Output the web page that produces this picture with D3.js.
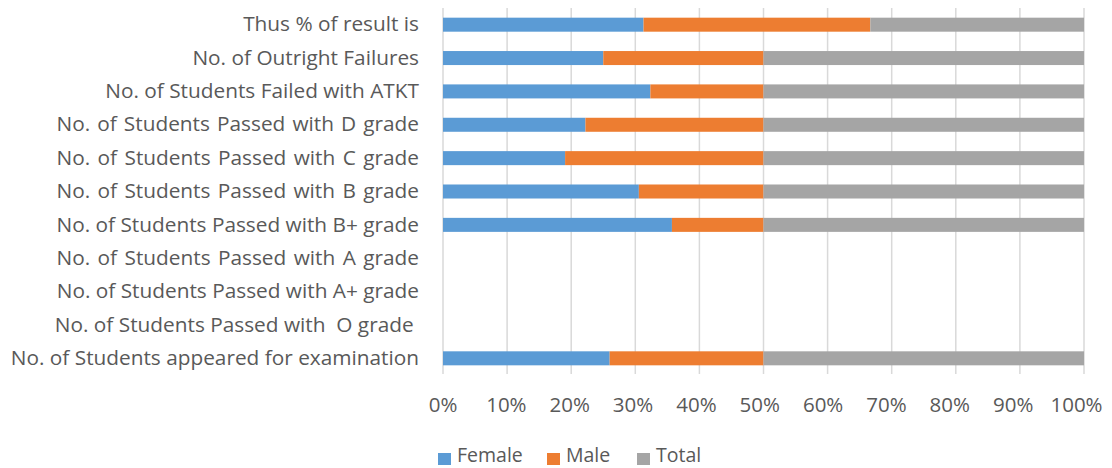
<!DOCTYPE html>
<html>
<head>
<meta charset="utf-8">
<script src="https://cdn.jsdelivr.net/npm/d3@7"></script>
<style>
  html, body { margin: 0; padding: 0; background: #fff; }
  svg { display: block; }
  text { font-family: "Open Sans", sans-serif; fill: #595959; }
</style>
</head>
<body>
<svg id="chart" width="1112" height="468"></svg>
<script>
// Categories (top to bottom as displayed)
const categories = [
  "Thus % of result is",
  "No. of Outright Failures",
  "No. of Students Failed with ATKT",
  "No. of Students Passed with D grade",
  "No. of Students Passed with C grade",
  "No. of Students Passed with B grade",
  "No. of Students Passed with B+ grade",
  "No. of Students Passed with A grade",
  "No. of Students Passed with A+ grade",
  "No. of Students Passed with  O grade ",
  "No. of Students appeared for examination"
];
const seriesNames = ["Female", "Male", "Total"];
const female = [82.5, 1, 11, 4, 8, 11, 5, 0, 0, 0, 13];
const male   = [93.3, 1, 6, 5, 13, 7, 2, 0, 0, 0, 12];
const total  = [87.9, 2, 17, 9, 21, 18, 7, 0, 0, 0, 25];
const xTicks = [0, 0.1, 0.2, 0.3, 0.4, 0.5, 0.6, 0.7, 0.8, 0.9, 1];
const colors = ["#5B9BD5", "#ED7D31", "#A5A5A5"];
const justified = [
  "No. of Students Passed with D grade",
  "No. of Students Passed with C grade",
  "No. of Students Passed with B grade",
  "No. of Students Passed with A grade"
];

const rows = categories.map((c, i) => ({ cat: c, Female: female[i], Male: male[i], Total: total[i] }));

const svg = d3.select("#chart");
const margin = { left: 443, right: 28, top: 8, bottom: 93 };
const W = 1112, H = 468;

const x = d3.scaleLinear().domain([0, 1]).range([margin.left, W - margin.right]);
// tick labels are laid out slightly tighter than the gridlines (as in the original)
const xLabel = d3.scaleLinear().domain([0, 1]).range([margin.left - 0.5, W - margin.right - 8]);
const y = d3.scaleBand().domain(categories).range([margin.top, H - margin.bottom])
  .paddingInner(0.58).paddingOuter(0.29);
const color = d3.scaleOrdinal().domain(seriesNames).range(colors);

// gridlines
svg.append("g").selectAll("line").data(xTicks).join("line")
  .attr("x1", d => x(d)).attr("x2", d => x(d))
  .attr("y1", margin.top).attr("y2", H - margin.bottom - 1)
  .attr("stroke", "#d9d9d9").attr("stroke-width", 1.5);

// stacks (normalized)
const stack = d3.stack().keys(seriesNames).offset(d3.stackOffsetExpand);
const stacked = stack(rows);

svg.append("g").selectAll("g").data(stacked).join("g")
  .attr("fill", d => color(d.key))
  .selectAll("rect").data(d => d.filter(p => !isNaN(p[1]) && p[1] > p[0])).join("rect")
  .attr("x", d => x(d[0]))
  .attr("width", d => x(d[1]) - x(d[0]))
  .attr("y", d => y(d.data.cat))
  .attr("height", y.bandwidth());

// x axis labels
const xAxis = d3.axisBottom(xLabel).tickValues(xTicks).tickFormat(d3.format(".0%")).tickSize(0).tickPadding(0);
const gx = svg.append("g").attr("transform", `translate(0,412)`).call(xAxis);
gx.select(".domain").remove();
gx.selectAll("text").attr("y", 0).attr("dy", 0)
  .style("font-size", "20.5px").style("font-family", "'Open Sans', sans-serif").attr("fill", "#595959");

// y axis labels
const yAxis = d3.axisLeft(y).tickSize(0).tickPadding(0);
const gy = svg.append("g").attr("transform", `translate(${margin.left - 24},0)`).call(yAxis);
gy.select(".domain").remove();
gy.selectAll("text").style("font-size", "20.8px").style("font-family", "'Open Sans', sans-serif")
  .style("white-space", "pre").attr("fill", "#595959");

// justify some labels to the width of the B+ label
const ref = gy.selectAll("text").filter(d => d === "No. of Students Passed with B+ grade").node();
const refW = ref.getComputedTextLength();
gy.selectAll("text").filter(d => justified.includes(d)).each(function(d) {
  const w = this.getComputedTextLength();
  const gaps = d.split(" ").length - 1;
  d3.select(this).attr("word-spacing", (refW - w) / gaps);
});

// legend
const legendX = [438, 547, 637];
const lg = svg.append("g").selectAll("g").data(seriesNames).join("g")
  .attr("transform", (d, i) => `translate(${legendX[i]},462)`);
lg.append("rect").attr("x", 0).attr("y", -9).attr("width", 13).attr("height", 12).attr("fill", d => color(d));
lg.append("text").attr("x", 19).attr("y", 0).text(d => d).style("font-size", "19.5px");
</script>
</body>
</html>
